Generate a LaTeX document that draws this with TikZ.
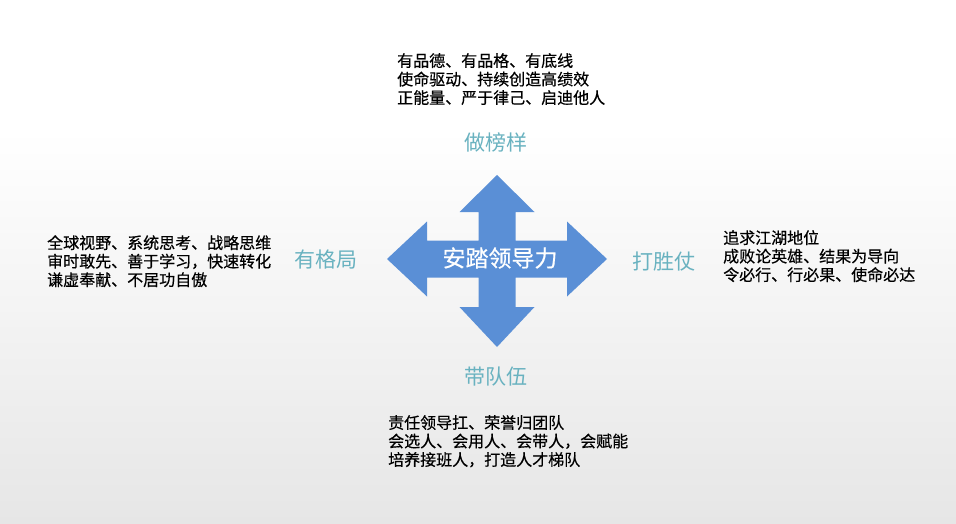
\documentclass[tikz,border=0pt]{standalone}
\usepackage{fontspec}
\setmainfont{Noto Sans CJK SC}
\newfontfamily\bodyfont[FakeBold=0.5]{Noto Sans CJK SC}
\definecolor{arrowblue}{RGB}{90,143,214}
\definecolor{labelteal}{RGB}{105,178,192}
\definecolor{bgtop}{RGB}{255,255,255}
\definecolor{bgbottom}{RGB}{230,230,230}
\tikzset{
  bodytext/.style={anchor=north west, inner sep=0pt, align=left, text=black,
    font=\bodyfont\fontsize{16}{18.5}\selectfont},
  sidelabel/.style={inner sep=0pt, text=labelteal, font=\fontsize{21}{24}\selectfont},
}
\begin{document}
\begin{tikzpicture}[x=1pt, y=-1pt]

  % -- Background --
  \useasboundingbox (0,0) rectangle (956,524);
  \fill[bgtop] (0,0) rectangle (956,130);
  \shade[top color=bgtop, bottom color=bgbottom] (0,130) rectangle (956,524);

  % -- Four-way arrow --
  \fill[arrowblue] (497,175) -- (534.5,212) -- (515.5,212) -- (515.5,240.5)
    -- (567,240.5) -- (567,221.5) -- (607,259) -- (567,296.5) -- (567,277.5)
    -- (515.5,277.5) -- (515.5,307) -- (534.5,307) -- (497,347)
    -- (459.5,307) -- (478.5,307) -- (478.5,277.5) -- (427,277.5)
    -- (427,296.5) -- (387,259) -- (427,221.5) -- (427,240.5)
    -- (478.5,240.5) -- (478.5,212) -- (459.5,212) -- cycle;
  \node[inner sep=0pt, text=white, font=\bodyfont\fontsize{23}{26}\selectfont]
    (lead) at (500,258) {安踏领导力};

  % -- Top: 做榜样 --
  \node[sidelabel] (model) at (496,142) {做榜样};
  \node[bodytext] (model text) at (397,53)
    {有品德、有品格、有底线\\使命驱动、持续创造高绩效\\正能量、严于律己、启迪他人};

  % -- Left: 有格局 --
  \node[sidelabel] (vision) at (326,260) {有格局};
  \node[bodytext] (vision text) at (47,235)
    {全球视野、系统思考、战略思维\\审时敢先、善于学习，快速转化\\谦虚奉献、不居功自傲};

  % -- Right: 打胜仗 --
  \node[sidelabel] (victory) at (664,262) {打胜仗};
  \node[bodytext] (victory text) at (723,230)
    {追求江湖地位\\成败论英雄、结果为导向\\令必行、行必果、使命必达};

  % -- Bottom: 带队伍 --
  \node[sidelabel] (team) at (496,377) {带队伍};
  \node[bodytext] (team text) at (388,415)
    {责任领导扛、荣誉归团队\\会选人、会用人、会带人，会赋能\\培养接班人，打造人才梯队};

\end{tikzpicture}
\end{document}
